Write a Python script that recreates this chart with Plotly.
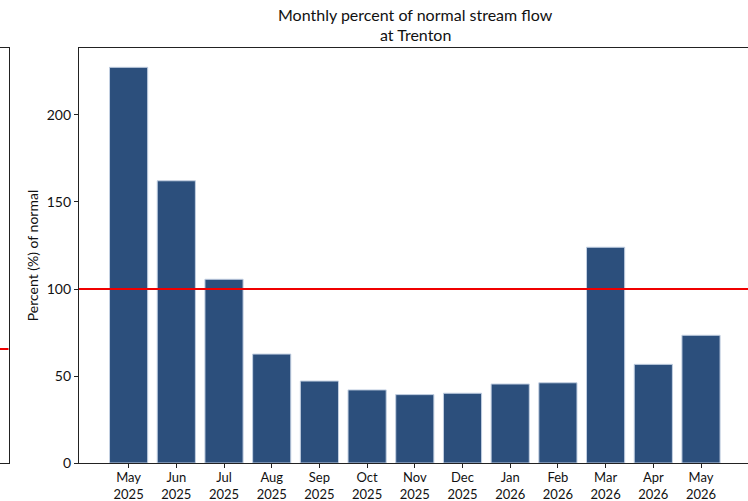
import plotly.graph_objects as go

months = ["May<br>2025", "Jun<br>2025", "Jul<br>2025", "Aug<br>2025", "Sep<br>2025",
          "Oct<br>2025", "Nov<br>2025", "Dec<br>2025", "Jan<br>2026", "Feb<br>2026",
          "Mar<br>2026", "Apr<br>2026", "May<br>2026"]
percent_normal = [227.4, 162.2, 105.6, 62.6, 47.1, 42.0, 39.3, 40.1, 45.4, 46.1, 124.0, 56.7, 73.4]
normal_ref = 100
y_ticks = [0, 50, 100, 150, 200]
title_lines = ["Monthly percent of normal stream flow", "at Trenton"]

W, H = 748, 501
FONT = "Lato, Open Sans, sans-serif"
idx = list(range(len(months)))

fig = go.Figure()
fig.add_trace(go.Bar(
    x=idx, y=percent_normal, width=0.8,
    marker=dict(color="#2c4f7c", line=dict(color="#c3d0e2", width=1)),
    xaxis="x", yaxis="y", showlegend=False, hoverinfo="y",
))
fig.add_trace(go.Scatter(
    x=[-2, len(months) + 1], y=[normal_ref, normal_ref], mode="lines",
    line=dict(color="#f00000", width=1.8), xaxis="x", yaxis="y",
    showlegend=False, hoverinfo="skip",
))
fig.add_trace(go.Scatter(
    x=[-1, 2], y=[normal_ref, normal_ref], mode="lines",
    line=dict(color="#f00000", width=1.8), xaxis="x2", yaxis="y2",
    showlegend=False, hoverinfo="skip",
))

title_x = (79 + 751) / 2 / W
for i, line in enumerate(title_lines):
    fig.add_annotation(text=line, xref="paper", yref="paper",
                       x=title_x, xanchor="center",
                       y=1 + (33 - 19 * i) / (H - 48 - 38), yanchor="middle",
                       showarrow=False, font=dict(family=FONT, size=16, color="#111111"))

fig.update_layout(
    width=W, height=H,
    margin=dict(l=0, r=0, t=48, b=38, autoexpand=False),
    plot_bgcolor="white", paper_bgcolor="white",
    font=dict(family=FONT, size=14, color="#111111"),
    xaxis=dict(
        domain=[79 / W, 1], range=[-1.04, -1.04 + (W - 79) / 47.7],
        tickmode="array", tickvals=idx, ticktext=months, automargin=False,
        showline=True, linecolor="#222222", linewidth=1.2, mirror=True,
        ticks="outside", ticklen=4, tickcolor="#222222", ticklabelstandoff=-2,
        showgrid=False, zeroline=False, tickfont=dict(size=13),
    ),
    yaxis=dict(
        domain=[0, 1], range=[0, 238.5], automargin=False,
        tickmode="array", tickvals=y_ticks,
        showline=True, linecolor="#222222", linewidth=1.2,
        ticks="outside", ticklen=4, tickcolor="#222222",
        showgrid=False, zeroline=False, tickfont=dict(size=14),
        title=dict(text="Percent (%) of normal", standoff=4, font=dict(size=14)),
    ),
    xaxis2=dict(
        domain=[0, 8.5 / W], range=[0, 1], anchor="y2", automargin=False,
        showline=True, linecolor="#222222", linewidth=1.2, mirror=True,
        showticklabels=False, ticks="", showgrid=False, zeroline=False,
    ),
    yaxis2=dict(
        domain=[0, 1], range=[0, 364], anchor="x2", side="right", automargin=False,
        showline=True, linecolor="#222222", linewidth=1.2,
        showticklabels=False, ticks="", showgrid=False, zeroline=False,
    ),
)

fig.write_html("out.html", config={"displayModeBar": False},
               post_script="document.body.style.margin='0';document.body.style.overflow='hidden';")
